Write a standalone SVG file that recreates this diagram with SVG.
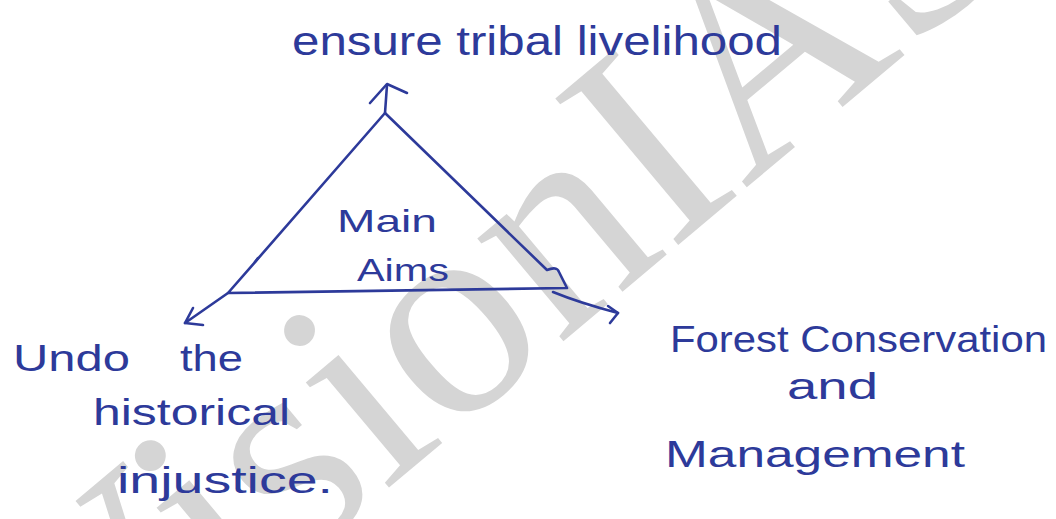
<svg xmlns="http://www.w3.org/2000/svg" width="1056" height="519" viewBox="0 0 1056 519">
<style>
.ink{fill:#2d3a9a;font-family:"Liberation Sans",Arial,sans-serif}
.ln{fill:none;stroke:#2d3a9a;stroke-width:2.6;stroke-linecap:round;stroke-linejoin:round}
.wm{fill:#d5d5d5;font-family:"Liberation Serif","Times New Roman",serif}
</style>
<rect width="1056" height="519" fill="#ffffff"/>
<g id="watermark">
<text class="wm" font-size="292" transform="translate(87,741) rotate(-40)">VisionIAS</text>
</g>
<g id="connectors">
<path class="ln" d="M385,113 L387,85"/>
<path class="ln" d="M370,103 L387,84 L407,93"/>
<path class="ln" d="M228,293 L185,323"/>
<path class="ln" d="M193,308 L185,323 L203,325"/>
<path class="ln" d="M553,292 Q580,303 618,313"/>
<path class="ln" d="M608,306 L618,313 L610,323"/>
</g>
<g id="triangle">
<path class="ln" d="M385,113 L547,270 Q557,266 559,272 L567,288 L228,293 Z"/>
<path class="ln" d="M255,262 L258,258"/>
<text class="ink" x="337" y="232" font-size="32" textLength="100" lengthAdjust="spacingAndGlyphs">Main</text>
<text class="ink" x="357" y="281" font-size="32" textLength="92" lengthAdjust="spacingAndGlyphs">Aims</text>
</g>
<g id="top">
<text class="ink" x="292" y="55" font-size="40" textLength="490" lengthAdjust="spacingAndGlyphs">ensure tribal livelihood</text>
</g>
<g id="left">
<text class="ink" x="13" y="371" font-size="36"><tspan textLength="117" lengthAdjust="spacingAndGlyphs">Undo</tspan><tspan x="180" textLength="63" lengthAdjust="spacingAndGlyphs">the</tspan></text>
<text class="ink" x="93" y="425" font-size="36" textLength="197" lengthAdjust="spacingAndGlyphs">historical</text>
<text class="ink" x="117" y="493" font-size="36" textLength="216" lengthAdjust="spacingAndGlyphs">injustice.</text>
</g>
<g id="right">
<text class="ink" x="670" y="352" font-size="36" textLength="377" lengthAdjust="spacingAndGlyphs">Forest Conservation</text>
<text class="ink" x="787" y="399" font-size="36" textLength="91" lengthAdjust="spacingAndGlyphs">and</text>
<text class="ink" x="665" y="467" font-size="36" textLength="300" lengthAdjust="spacingAndGlyphs">Management</text>
</g>
</svg>
